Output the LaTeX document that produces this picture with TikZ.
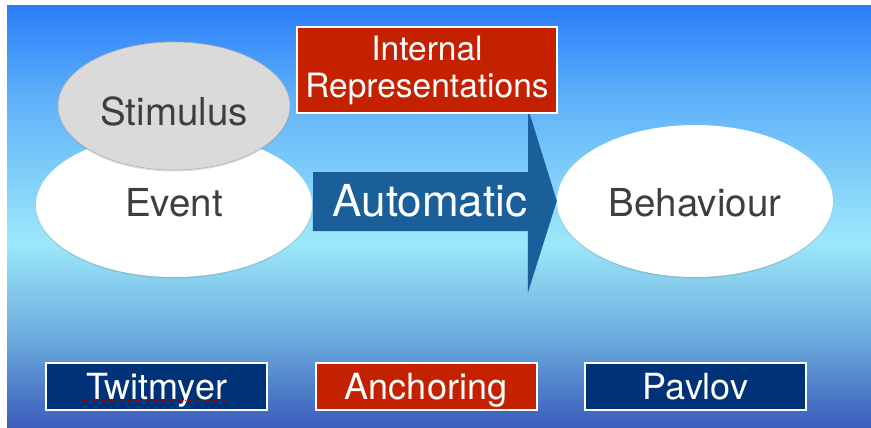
\documentclass[tikz,border=0pt]{standalone}
\usepackage{fontspec}
\setmainfont{TeX Gyre Heros}
\usetikzlibrary{shapes.geometric,shadows}

\definecolor{bgtop}{RGB}{42,126,249}
\definecolor{bgupper}{RGB}{95,178,249}
\definecolor{bglight}{RGB}{156,232,250}
\definecolor{bglower}{RGB}{106,169,220}
\definecolor{bgbottom}{RGB}{58,92,186}
\definecolor{boxred}{RGB}{196,33,0}
\definecolor{boxblue}{RGB}{0,50,120}
\definecolor{arrowblue}{RGB}{26,94,154}
\definecolor{ovalgray}{RGB}{218,218,218}
\definecolor{labelgray}{RGB}{62,62,62}

\pgfdeclareverticalshading{slidebg}{100bp}{color(0bp)=(bgbottom); color(25bp)=(bgbottom); color(35.4bp)=(bglower); color(47bp)=(bglight); color(63.9bp)=(bgupper); color(75bp)=(bgtop); color(100bp)=(bgtop)}

\tikzset{
	oval/.style={shape=ellipse,inner sep=0pt,fill=white,
		drop shadow={shadow xshift=0pt,shadow yshift=-1.5pt,opacity=0.25}},
	ovallabel/.style={text=labelgray,font=\fontsize{38.5}{40}\selectfont},
	namebox/.style={shape=rectangle,draw=white,line width=2pt,text=white,
		minimum width=221pt,minimum height=47pt,inner sep=0pt,
		text height=25pt,text depth=0pt,font=\fontsize{36}{38}\selectfont}
}

\begin{document}
\begin{tikzpicture}[x=1pt,y=-1pt]
	\useasboundingbox[fill=white] (0,0) rectangle (871,428);
	\shade[shading=slidebg] (7,6) rectangle (871,428);
	\node[oval,minimum width=276pt,minimum height=144pt] (event) at (174,205) {};
	\node[oval,minimum width=276pt,minimum height=152pt] (behaviour) at (695,201) {};
	\node[ovallabel] at (174,203) {Event};
	\node[ovallabel] at (695,202.5) {Behaviour};
	\node[oval,fill=ovalgray,draw=black!30,line width=0.6pt,minimum width=232pt,minimum height=128pt] (stimulus) at (174,106) {};
	\node[ovallabel] at (174,111) {Stimulus};
	\coordinate (tail) at (event.east |- behaviour.west);
	\fill[arrowblue] (tail) ++(1,-29) -- ++(215,0) -- ++(0,-63) -- (behaviour.west) -- ++(-29,92) -- ++(0,-62) -- ++(-215,0) -- cycle;
	\node[text=white,font=\fontsize{44}{46}\selectfont] (automatic) at (430,201) {Automatic};
	\node[namebox,fill=boxred,minimum width=260pt,minimum height=86pt,text height=,text depth=,
		align=center,font=\fontsize{33.5}{37}\selectfont] (internal) at (427,70) {Internal\\Representations};
	\node[namebox,fill=boxblue] (twitmyer) at (156.5,386.5) {Twitmyer};
	\node[namebox,fill=boxred] (anchoring) at (426,386.5) {Anchoring};
	\node[namebox,fill=boxblue] (pavlov) at (695.5,386.5) {Pavlov};
	\draw[red!75!black,dotted,line width=0.6pt] ([xshift=-73pt,yshift=-14pt]twitmyer.center) -- ++(147,0);
\end{tikzpicture}
\end{document}
